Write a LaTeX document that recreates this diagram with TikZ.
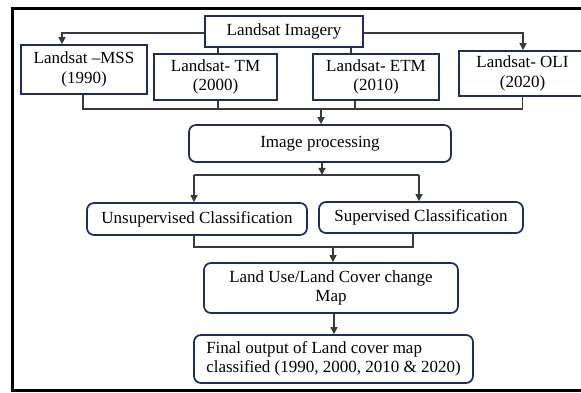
\documentclass[tikz,border=0pt]{standalone}
\usepackage{fontspec}
\setmainfont{Liberation Serif}
\usetikzlibrary{arrows.meta,calc}
\definecolor{navy}{HTML}{1F2D5E}
\definecolor{conn}{HTML}{3A3A3A}
\tikzset{
  sqbox/.style={draw=navy, line width=1.7pt, fill=white, inner sep=0pt, align=center,
    font=\fontsize{17}{19.5}\selectfont, text=black},
  rbox/.style={sqbox, rounded corners=7pt},
  conline/.style={draw=conn, line width=1.3pt},
  conarrow/.style={conline, -{Triangle[width=7pt,length=7pt]}},
  frameline/.style={line width=3pt, black}
}
\begin{document}
\begin{tikzpicture}[x=1pt,y=-1pt]
\useasboundingbox (0,0) rectangle (581,393);
\clip (0,0) rectangle (581,393);
\fill[white] (0,0) rectangle (581,393);
% frame
\draw[frameline] (585,9) -- (12,9) -- (12,390) -- (585,390);
% top nodes
\node[sqbox, minimum width=158pt, minimum height=31pt] (img) at (284,31.5) {Landsat Imagery};
\node[sqbox, minimum width=126pt, minimum height=49pt] (mss) at (84,69.5) {Landsat –MSS\\(1990)};
\node[sqbox, minimum width=123pt, minimum height=46pt] (tm) at (215.5,77) {Landsat- TM\\(2000)};
\node[sqbox, minimum width=126pt, minimum height=46pt] (etm) at (376,77) {Landsat- ETM\\(2010)};
\node[sqbox, minimum width=127pt, minimum height=45pt] (oli) at (522.5,73.5) {Landsat- OLI\\(2020)};
% processing
\node[rbox, minimum width=262pt, minimum height=37pt] (proc) at (320,143.5) {Image processing};
\node[rbox, minimum width=220pt, minimum height=32pt] (unsup) at (197,219) {Unsupervised Classification};
\node[rbox, minimum width=204pt, minimum height=31pt] (sup) at (421,217.5) {Supervised Classification};
\node[rbox, minimum width=254pt, minimum height=50pt] (lulc) at (331,288) {Land Use/Land Cover change\\Map};
\node[rbox, minimum width=279pt, minimum height=48pt, align=left] (final) at (333.5,359) {Final output of Land cover map\\classified (1990, 2000, 2010 \& 2020)};
% connectors from imagery
\coordinate (imgL) at (62,33);
\coordinate (imgR) at (523,33);
\draw[conarrow] (img.west |- imgL) -- (imgL) -- (imgL |- mss.north);
\draw[conarrow] (img.east |- imgR) -- (imgR) -- (imgR |- oli.north);
\draw[conline] ([xshift=-66pt]img.south) -- ([xshift=-66pt]img.south |- tm.north);
\draw[conline] ([xshift=67pt]img.south) -- ([xshift=67pt]img.south |- etm.north);
% collector bus 1
\coordinate (bus1) at (321,109);
\draw[conline] ([xshift=-1pt]mss.south) -- ([xshift=-1pt]mss.south |- bus1) -- (oli.south |- bus1) -- (oli.south);
\draw[conline] ([xshift=2.5pt]tm.south) -- ([xshift=2.5pt]tm.south |- bus1);
\draw[conline] ([xshift=-21pt]etm.south) -- ([xshift=-21pt]etm.south |- bus1);
\draw[conarrow] (bus1) -- (bus1 |- proc.north);
% split
\coordinate (bus2) at (322,175);
\draw[conarrow] ([xshift=2pt]proc.south) -- (bus2);
\draw[conline] ([xshift=-3pt]unsup.north |- bus2) -- ([xshift=-2pt]sup.north |- bus2);
\draw[conarrow] ([xshift=-3pt]unsup.north |- bus2) -- ([xshift=-3pt]unsup.north);
\draw[conarrow] ([xshift=-2pt]sup.north |- bus2) -- ([xshift=-2pt]sup.north);
% merge
\coordinate (bus3) at (333,247);
\draw[conline] ([xshift=-3pt]unsup.south) -- ([xshift=-3pt]unsup.south |- bus3) -- ([xshift=-8pt]sup.south |- bus3) -- ([xshift=-8pt]sup.south);
\draw[conarrow] (bus3) -- (bus3 |- lulc.north);
\draw[conarrow] ([xshift=3pt]lulc.south) -- ([xshift=3pt]lulc.south |- final.north);
\end{tikzpicture}
\end{document}
